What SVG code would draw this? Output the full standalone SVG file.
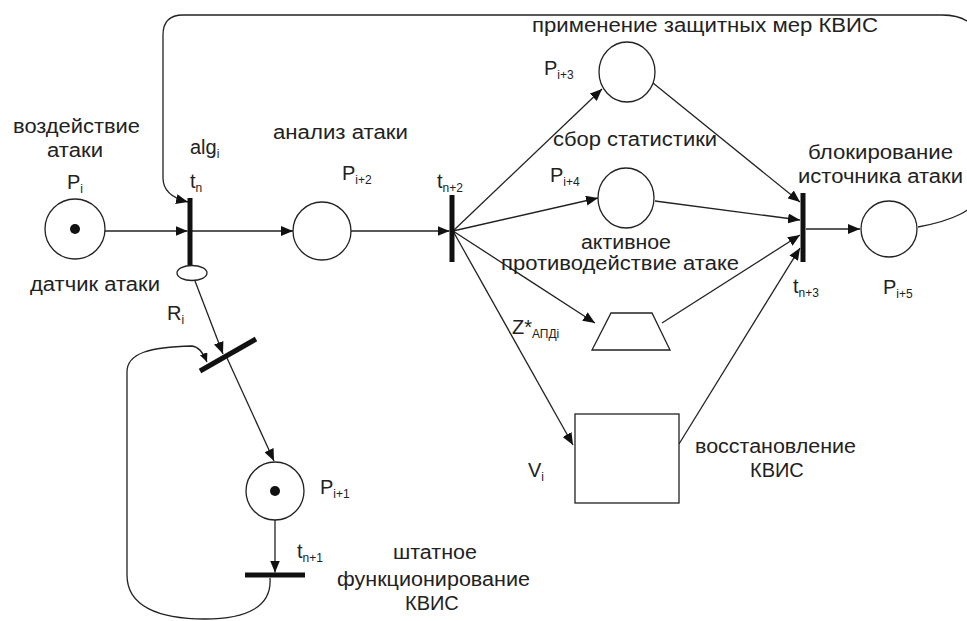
<svg xmlns="http://www.w3.org/2000/svg" width="967" height="621" viewBox="0 0 967 621">
<style>
  text { font-family: "Liberation Sans", Arial, sans-serif; font-size: 20px; fill: #222; }
  .sub { font-size: 12px; }
  .place { fill: #fff; stroke: #222; stroke-width: 1.3; }
  .bar { stroke: #111; stroke-width: 5; stroke-linecap: butt; }
  .arc { fill: none; stroke: #222; stroke-width: 1.3; }
  .tok { fill: #111; }
</style>
<defs>
  <marker id="ah" markerWidth="12" markerHeight="10" refX="12" refY="5" orient="auto" markerUnits="userSpaceOnUse">
    <path d="M0,0 L12,5 L0,10 z" fill="#111"/>
  </marker>
  <marker id="ahs" markerWidth="9" markerHeight="8" refX="9" refY="4" orient="auto" markerUnits="userSpaceOnUse">
    <path d="M0,0 L9,4 L0,8 z" fill="#111"/>
  </marker>
</defs>
<rect width="967" height="621" fill="#fff"/>

<g id="connectors">
  <line class="arc" x1="105" y1="231" x2="187.5" y2="231" marker-end="url(#ah)"/>
  <path class="arc" d="M918 227 C 945 222, 982 212, 982 185 L 982 55 Q 982 15 942 15 L 183 15 Q 163 15 163 35 L 163 178 Q 163 196 188 202" marker-end="url(#ah)"/>
  <line class="arc" x1="192" y1="231" x2="293" y2="231" marker-end="url(#ah)"/>
  <line class="arc" x1="351" y1="231" x2="449.5" y2="231" marker-end="url(#ah)"/>
  <line class="arc" x1="453" y1="231" x2="602" y2="89" marker-end="url(#ah)"/>
  <line class="arc" x1="453" y1="231" x2="598" y2="198" marker-end="url(#ah)"/>
  <line class="arc" x1="453" y1="231" x2="595" y2="323" marker-end="url(#ah)"/>
  <line class="arc" x1="453" y1="231" x2="573" y2="445" marker-end="url(#ah)"/>
  <line class="arc" x1="653" y1="83" x2="800" y2="202" marker-end="url(#ah)"/>
  <line class="arc" x1="655" y1="201" x2="800" y2="220" marker-end="url(#ah)"/>
  <line class="arc" x1="662" y1="323" x2="800" y2="235" marker-end="url(#ah)"/>
  <line class="arc" x1="679" y1="444" x2="800" y2="248" marker-end="url(#ah)"/>
  <line class="arc" x1="806" y1="229" x2="860" y2="229" marker-end="url(#ah)"/>
  <line class="arc" x1="195" y1="281" x2="223" y2="354" marker-end="url(#ah)"/>
  <line class="arc" x1="227" y1="358" x2="274" y2="461" marker-end="url(#ah)"/>
  <line class="arc" x1="275" y1="520" x2="275" y2="572.5" marker-end="url(#ah)"/>
  <path class="arc" d="M270 578 C 272 606, 248 619, 205 619 C 158 619, 127 606, 127 575 L 127 372 C 127 353, 150 347, 192 346 Q 201 347 207 362" marker-end="url(#ahs)"/>
</g>

<g id="p-i">
  <circle class="place" cx="75" cy="229" r="30"/>
  <circle class="tok" cx="75" cy="229" r="5"/>
  <text x="13" y="133" textLength="127" lengthAdjust="spacingAndGlyphs">воздействие</text>
  <text x="47" y="157" textLength="56" lengthAdjust="spacingAndGlyphs">атаки</text>
  <text x="67" y="189">P<tspan class="sub" dy="4">i</tspan></text>
</g>

<g id="t-n">
  <line class="bar" x1="190" y1="198" x2="190" y2="265"/>
  <text x="190" y="154">alg<tspan class="sub" dy="4">i</tspan></text>
  <text x="190" y="188">t<tspan class="sub" dy="4">n</tspan></text>
</g>

<g id="sensor">
  <ellipse class="place" cx="192" cy="273" rx="15" ry="7.5"/>
  <text x="30" y="291" textLength="130" lengthAdjust="spacingAndGlyphs">датчик атаки</text>
</g>

<g id="p-i2">
  <circle class="place" cx="322" cy="231" r="29"/>
  <text x="273" y="139" textLength="135" lengthAdjust="spacingAndGlyphs">анализ атаки</text>
  <text x="342" y="180">P<tspan class="sub" dy="4">i+2</tspan></text>
</g>

<g id="t-n2">
  <line class="bar" x1="452" y1="195" x2="452" y2="262"/>
  <text x="437" y="188">t<tspan class="sub" dy="4">n+2</tspan></text>
</g>

<g id="p-i3">
  <ellipse class="place" cx="627" cy="72" rx="28" ry="30"/>
  <text x="532" y="32" textLength="346" lengthAdjust="spacingAndGlyphs">применение защитных мер КВИС</text>
  <text x="544" y="75">P<tspan class="sub" dy="4">i+3</tspan></text>
</g>

<g id="p-i4">
  <ellipse class="place" cx="626" cy="198" rx="28" ry="30"/>
  <text x="553" y="146" textLength="164" lengthAdjust="spacingAndGlyphs">сбор статистики</text>
  <text x="550" y="182">P<tspan class="sub" dy="4">i+4</tspan></text>
</g>

<g id="z-apd">
  <path class="place" d="M611 313 L652 313 L670 350 L592 350 Z"/>
  <text x="581" y="249" textLength="90" lengthAdjust="spacingAndGlyphs">активное</text>
  <text x="501" y="270" textLength="238" lengthAdjust="spacingAndGlyphs">противодействие атаке</text>
  <text x="512" y="334">Z*<tspan class="sub" dy="4">АПДi</tspan></text>
</g>

<g id="v-i">
  <rect class="place" x="575" y="414" width="104" height="89"/>
  <text x="528" y="477">V<tspan class="sub" dy="4">i</tspan></text>
  <text x="695" y="453" textLength="161" lengthAdjust="spacingAndGlyphs">восстановление</text>
  <text x="750" y="477">КВИС</text>
</g>

<g id="t-n3">
  <line class="bar" x1="803" y1="193" x2="803" y2="262"/>
  <text x="793" y="293">t<tspan class="sub" dy="4">n+3</tspan></text>
</g>

<g id="p-i5">
  <circle class="place" cx="889" cy="229" r="28"/>
  <text x="808" y="159" textLength="145" lengthAdjust="spacingAndGlyphs">блокирование</text>
  <text x="798" y="183" textLength="165" lengthAdjust="spacingAndGlyphs">источника атаки</text>
  <text x="883" y="294">P<tspan class="sub" dy="4">i+5</tspan></text>
</g>

<g id="t-r">
  <line class="bar" x1="200" y1="371" x2="256" y2="339"/>
  <text x="167" y="320">R<tspan class="sub" dy="4">i</tspan></text>
</g>

<g id="p-i1">
  <circle class="place" cx="275" cy="491" r="29"/>
  <circle class="tok" cx="275" cy="491" r="5"/>
  <text x="320" y="494">P<tspan class="sub" dy="4">i+1</tspan></text>
</g>

<g id="t-n1">
  <line class="bar" x1="245" y1="575" x2="305" y2="575"/>
  <text x="297" y="558">t<tspan class="sub" dy="4">n+1</tspan></text>
  <text x="393" y="559" textLength="84" lengthAdjust="spacingAndGlyphs">штатное</text>
  <text x="337" y="586" textLength="193" lengthAdjust="spacingAndGlyphs">функционирование</text>
  <text x="405" y="610">КВИС</text>
</g>
</svg>
